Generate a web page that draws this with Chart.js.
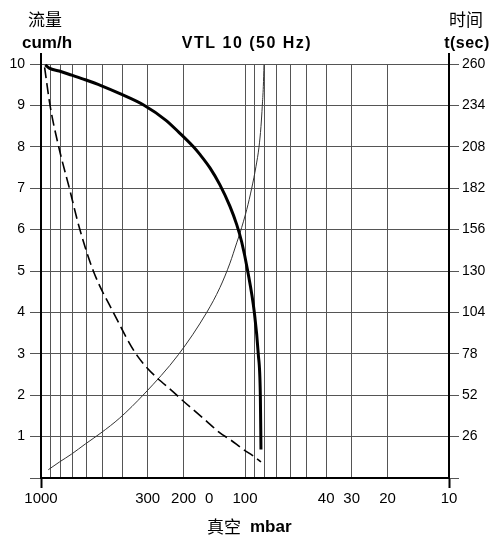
<!DOCTYPE html>
<html lang="zh">
<head>
<meta charset="UTF-8">
<title>VTL 10 (50 Hz)</title>
<script src="https://cdn.jsdelivr.net/npm/chart.js"></script>
<style>
  html, body { margin: 0; padding: 0; background: #fff; }
  #wrap { width: 497px; height: 540px; position: relative; }
</style>
</head>
<body>
<div id="wrap"><canvas id="pumpChart"></canvas></div>
<script>
// x axis: vacuum in mbar (log, reversed)
const gridPressures = [1000, 900, 800, 700, 600, 500, 400, 300, 200, 150, 100, 90, 80, 70, 60, 50, 40, 30, 20, 10];
const pressureLabels = { 1000: '1000', 300: '300', 200: '200', 150: '0', 100: '100', 40: '40', 30: '30', 20: '20', 10: '10' };

// left axis: flow cum/h, right axis: time in sec
const flowMax = 10;
const timeMax = 260;
const timeStep = 26;

// thick line - pumping speed
const speedPressure = [953, 911, 814, 707, 607, 508, 413, 314, 244, 212, 179, 166, 148.5, 132.7, 118.5, 109.8, 103.8, 97, 90, 86.1, 84.1, 83.5];
const speedFlow = [9.98, 9.90, 9.83, 9.73, 9.62, 9.48, 9.29, 9.01, 8.64, 8.36, 8.0, 7.81, 7.49, 7.08, 6.56, 6.12, 5.70, 5.0, 4.0, 3.0, 2.0, 0.69];

// dashed line
const dashPressure = [960, 903, 819, 726, 649, 554, 442, 337, 216, 156.5, 132.7, 118.5, 101.9, 91, 83.5];
const dashFlow = [9.92, 9.0, 8.0, 7.0, 6.05, 5.0, 4.0, 2.95, 2.0, 1.40, 1.09, 0.93, 0.69, 0.53, 0.39];

// thin line - evacuation time
const timePressure = [921, 810, 707, 607, 508, 411, 312, 212, 154, 132.7, 118.5, 109.8, 105.8, 98.1, 92.7, 88.3, 85.4, 83.5, 82.3, 81.3, 80.7];
const timeFlow = [0.2, 0.39, 0.58, 0.82, 1.09, 1.45, 2.03, 2.98, 4.0, 4.6, 5.19, 5.68, 5.92, 6.48, 7.0, 7.53, 7.99, 8.49, 8.98, 9.46, 9.98];

const tickFont = "'Liberation Sans', Arial, sans-serif";
const gridColor = '#555';

function toPoints(xs, ys) {
    return xs.map((x, i) => ({ x: x, y: ys[i] }));
}

// short axis stubs above the top grid line + header texts
const decorPlugin = {
    id: 'decor',
    afterDraw(chart) {
        const ctx = chart.ctx;
        const a = chart.chartArea;
        ctx.save();
        ctx.strokeStyle = '#000';
        ctx.lineWidth = 2;
        ctx.beginPath();
        ctx.moveTo(a.left, a.top - 11);
        ctx.lineTo(a.left, a.top);
        ctx.moveTo(a.right, a.top - 11);
        ctx.lineTo(a.right, a.top);
        ctx.stroke();

        ctx.fillStyle = '#000';
        ctx.textAlign = 'center';
        ctx.textBaseline = 'middle';
        ctx.font = "17px 'Noto Sans CJK SC'";
        ctx.fillText('流量', 45, 20);
        ctx.fillText('时间', 466, 20);
        ctx.font = "bold 17px " + tickFont;
        ctx.fillText('cum/h', 47, 43);

        ctx.letterSpacing = '1.5px';
        ctx.font = "bold 16px " + tickFont;
        ctx.fillText('VTL 10 (50 Hz)', (a.left + a.right) / 2 + 2, 44);
        ctx.letterSpacing = '0.5px';
        ctx.fillText('t(sec)', 467, 44);

        ctx.letterSpacing = '0px';
        ctx.textAlign = 'left';
        ctx.font = "17px 'Noto Sans CJK SC'";
        ctx.fillText('真空', 207, 527);
        ctx.font = "bold 17px " + tickFont;
        ctx.fillText('mbar', 250, 527);
        ctx.restore();
    }
};

const ctx = document.getElementById('pumpChart').getContext('2d');

new Chart(ctx, {
    type: 'line',
    data: {
        datasets: [
            {
                label: 'speed',
                data: toPoints(speedPressure, speedFlow),
                borderColor: '#000',
                borderWidth: 3,
                cubicInterpolationMode: 'monotone'
            },
            {
                label: 'dashed',
                data: toPoints(dashPressure, dashFlow),
                borderColor: '#000',
                borderWidth: 1.6,
                borderDash: [11, 5],
                cubicInterpolationMode: 'monotone'
            },
            {
                label: 'time',
                data: toPoints(timePressure, timeFlow),
                borderColor: '#333',
                borderWidth: 1,
                cubicInterpolationMode: 'monotone'
            }
        ]
    },
    options: {
        responsive: true,
        maintainAspectRatio: false,
        animation: false,
        layout: { padding: { top: 64, left: 0, right: 0, bottom: 0 } },
        elements: { point: { radius: 0 } },
        plugins: {
            legend: { display: false },
            tooltip: { enabled: false }
        },
        scales: {
            x: {
                type: 'logarithmic',
                reverse: true,
                min: 10,
                max: 1000,
                afterBuildTicks: function(scale) {
                    scale.ticks = gridPressures.map(v => ({ value: v }));
                },
                afterFit: function(scale) { scale.height = 62; },
                border: { color: '#000', width: 2 },
                grid: {
                    color: c => (c.tick && c.tick.value === 150) ? 'rgba(0,0,0,0)' : gridColor,
                    lineWidth: 1,
                    tickLength: 10,
                    tickWidth: 2,
                    tickColor: c => (c.tick && (c.tick.value === 1000 || c.tick.value === 10)) ? '#000' : 'rgba(0,0,0,0)'
                },
                ticks: {
                    autoSkip: false,
                    maxRotation: 0,
                    padding: 2,
                    color: '#000',
                    font: { family: tickFont, size: 15 },
                    callback: v => pressureLabels[v] || ''
                }
            },
            y: {
                position: 'left',
                min: 0,
                max: flowMax,
                afterFit: function(scale) { scale.width = 41; },
                border: { color: '#000', width: 2 },
                grid: {
                    color: gridColor,
                    lineWidth: 1,
                    tickLength: 11,
                    tickColor: gridColor
                },
                ticks: {
                    stepSize: 1,
                    padding: 5,
                    color: '#000',
                    font: { family: tickFont, size: 14 },
                    callback: v => v === 0 ? '' : v
                }
            },
            y2: {
                position: 'right',
                min: 0,
                max: timeMax,
                afterFit: function(scale) { scale.width = 48; },
                border: { color: '#000', width: 2 },
                grid: {
                    drawOnChartArea: false,
                    tickLength: 10,
                    tickColor: gridColor
                },
                ticks: {
                    stepSize: timeStep,
                    padding: 3,
                    color: '#000',
                    font: { family: tickFont, size: 14 },
                    callback: v => v === 0 ? '' : v
                }
            }
        }
    },
    plugins: [decorPlugin]
});
</script>
</body>
</html>
